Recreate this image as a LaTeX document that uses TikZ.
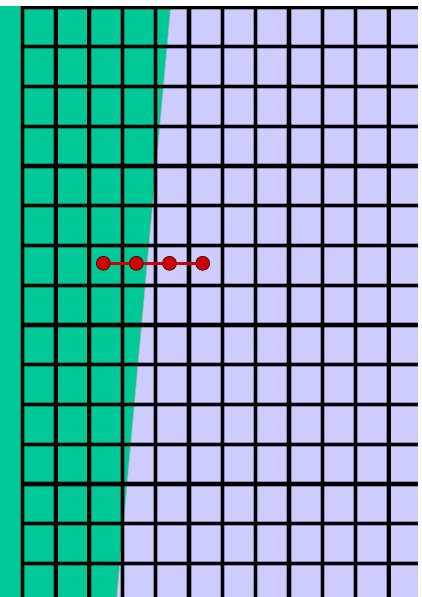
\documentclass[tikz,border=0pt]{standalone}
\definecolor{greenfill}{RGB}{0,200,150}
\definecolor{lav}{RGB}{204,204,255}
\definecolor{dotred}{RGB}{204,0,0}
\pgfdeclarelayer{front}
\pgfsetlayers{main,front}
\begin{document}
\begin{tikzpicture}[x=1pt,y=-1pt,
  gridline/.style={black, line width=3.4pt},
  halo/.style={black, opacity=0.3, line width=5.2pt},
  dot/.style={circle, fill=dotred, draw=black!75!dotred, line width=0.6pt, minimum size=14pt, inner sep=0pt},
  link/.style={dotred, line width=2.4pt}]
\useasboundingbox (0,0) rectangle (422,597);
\begin{scope}
  \clip (0,6) rectangle (418,597);
  \fill[lav] (0,6) rectangle (418,597);
  \fill[greenfill] (0,6) -- (170.7,6) -- (116.7,597) -- (0,597) -- cycle;
  \draw[gray!60, line width=0.6pt] (170.7,6) -- (116.7,597);
  \foreach \i in {0,...,11} \draw[halo] ({22.5+33.3*\i},6) -- ({22.5+33.3*\i},597);
  \foreach \j in {0,...,14} \draw[halo] (21,{7+39.75*\j}) -- (418,{7+39.75*\j});
  \foreach \i in {0,...,11} \draw[gridline] ({22.5+33.3*\i},6) -- ({22.5+33.3*\i},597);
  \foreach \j in {0,...,14} \draw[gridline] (21,{7+39.75*\j}) -- (418,{7+39.75*\j});
\end{scope}
\begin{pgfonlayer}{front}
  \node[dot] (d1) at (103.3,263.3) {};
  \node[dot] (d2) at (136.3,263.3) {};
  \node[dot] (d3) at (169.5,263.3) {};
  \node[dot] (d4) at (202.7,263.3) {};
\end{pgfonlayer}
\draw[link] (d1.center) -- (d4.east);
\end{tikzpicture}
\end{document}
